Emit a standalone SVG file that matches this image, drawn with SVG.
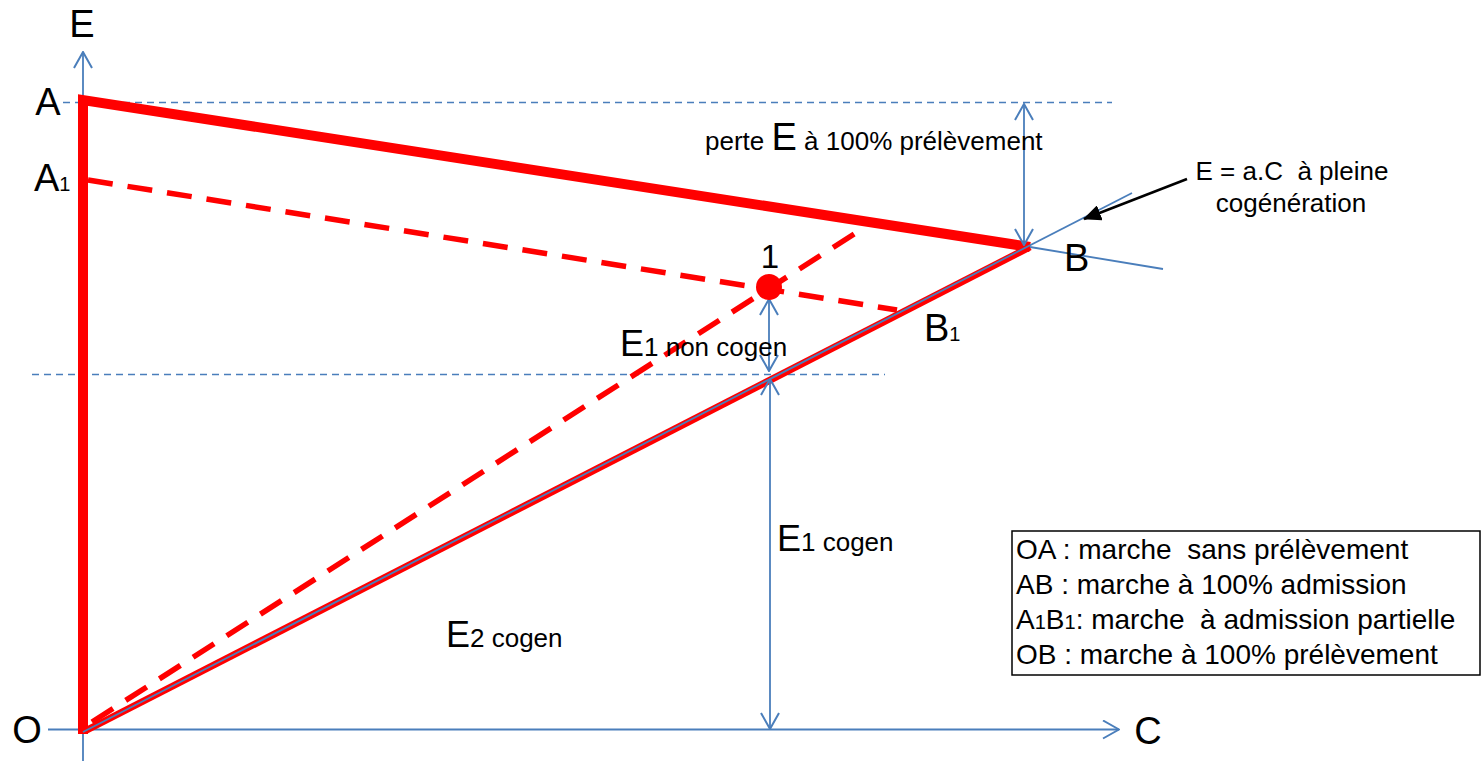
<svg xmlns="http://www.w3.org/2000/svg" width="1482" height="761" viewBox="0 0 1482 761">
<style>
text{font-family:"Liberation Sans",Arial,sans-serif;fill:#000}
.big{font-size:38px}
.mid{font-size:26px}
.sub{font-size:20px}
.leg{font-size:28px}
.blue{stroke:#4a7ebb;stroke-width:1.8;fill:none}
.bdash{stroke:#4a7ebb;stroke-width:1.4;fill:none;stroke-dasharray:7 5}
.red{stroke:#ff0000;fill:none}
.rdash{stroke:#ff0000;stroke-width:5.5;fill:none;stroke-dasharray:25 15}
</style>
<defs>
<marker id="open" viewBox="0 0 18 20" refX="17" refY="10" markerWidth="18" markerHeight="20" orient="auto-start-reverse" markerUnits="userSpaceOnUse">
<path d="M1,1 L17,10 L1,19" fill="none" stroke="#4a7ebb" stroke-width="2"/>
</marker>
<marker id="solid" viewBox="0 0 18 16" refX="17" refY="8" markerWidth="18" markerHeight="16" orient="auto" markerUnits="userSpaceOnUse">
<path d="M0,0 L18,8 L0,16 Z" fill="#000"/>
</marker>
</defs>
<rect width="1482" height="761" fill="#fff"/>

<g id="guides">
<line class="bdash" x1="63" y1="102.5" x2="1112" y2="102.5"/>
<line class="bdash" x1="32" y1="374.5" x2="885" y2="374.5"/>
</g>

<g id="axes">
<line class="blue" x1="83" y1="761" x2="83" y2="52" marker-end="url(#open)"/>
<line class="blue" x1="48" y1="729.5" x2="1119" y2="729.5" marker-end="url(#open)"/>
</g>

<g id="red-lines">
<line class="rdash" x1="88" y1="180" x2="897" y2="310"/>
<line class="rdash" x1="92" y1="722" x2="865" y2="227"/>
<line class="red" stroke-width="7" x1="85" y1="731" x2="1030" y2="247"/>
<polyline class="red" stroke-width="10" stroke-linejoin="miter" points="83,734 83,100 1030,247"/>
</g>

<g id="connectors">
<line class="blue" stroke-width="1.3" x1="83" y1="732" x2="1132" y2="193"/>
<line class="blue" stroke-width="1.3" x1="1030" y1="247" x2="1163" y2="269"/>
<line class="blue" x1="1024" y1="104" x2="1024" y2="245" marker-start="url(#open)" marker-end="url(#open)"/>
<line class="blue" x1="769" y1="299" x2="769" y2="371" marker-start="url(#open)" marker-end="url(#open)"/>
<line class="blue" x1="770" y1="379" x2="770" y2="729" marker-start="url(#open)" marker-end="url(#open)"/>
<line stroke="#000" stroke-width="2.5" x1="1187" y1="179" x2="1084" y2="219" marker-end="url(#solid)"/>
</g>

<g id="point-1">
<circle cx="769" cy="287" r="13" fill="#ff0000"/>
<text class="mid" x="770" y="268" text-anchor="middle" style="font-size:33px">1</text>
</g>

<g id="labels">
<text id="label-E" class="big" x="82" y="37" text-anchor="middle">E</text>
<text id="label-C" class="big" x="1148" y="744" text-anchor="middle">C</text>
<text id="label-A" class="big" x="48" y="115" text-anchor="middle">A</text>
<text id="label-A1" class="big" x="34" y="191">A<tspan class="sub">1</tspan></text>
<text id="label-B" class="big" x="1064" y="271">B</text>
<text id="label-B1" class="big" x="924" y="341">B<tspan class="sub">1</tspan></text>
<text id="label-O" class="big" x="27" y="743" text-anchor="middle">O</text>
<text id="label-perte" class="mid" x="705" y="150">perte <tspan class="big">E</tspan> à 100% prélèvement</text>
<text id="label-eq" class="mid" x="1292" y="180" text-anchor="middle" xml:space="preserve">E = a.C  à pleine</text>
<text class="mid" x="1291" y="212" text-anchor="middle">cogénération</text>
<text id="label-E1nc" class="big" x="620" y="356" style="font-size:36px">E<tspan class="mid">1 non cogen</tspan></text>
<text id="label-E1c" class="big" x="777" y="551" style="font-size:36px">E<tspan class="mid">1 cogen</tspan></text>
<text id="label-E2c" class="big" x="446" y="647" style="font-size:36px">E<tspan class="mid">2 cogen</tspan></text>
</g>

<g id="legend">
<rect x="1012" y="531" width="468" height="144" fill="#fff" stroke="#000" stroke-width="1.5"/>
<text class="leg" x="1016" y="559" xml:space="preserve">OA : marche  sans prélèvement</text>
<text class="leg" x="1016" y="594">AB : marche à 100% admission</text>
<text class="leg" x="1016" y="629" xml:space="preserve">A<tspan style="font-size:20px">1</tspan>B<tspan style="font-size:20px">1</tspan>: marche  à admission partielle</text>
<text class="leg" x="1016" y="664">OB : marche à 100% prélèvement</text>
</g>
</svg>
